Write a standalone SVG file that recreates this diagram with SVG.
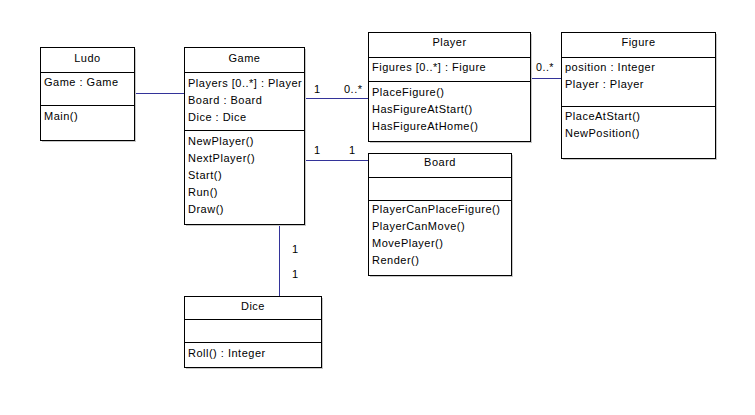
<svg xmlns="http://www.w3.org/2000/svg" width="755" height="415" viewBox="0 0 755 415">
<style>
text{font-family:"Liberation Sans",Arial,sans-serif;font-size:11px;letter-spacing:0.5px;fill:#000}
.c{text-anchor:middle}
.box{fill:#fff;stroke:#000;stroke-width:1}
.sh{fill:#c8c8c8}
.div{stroke:#000;stroke-width:1}
.con{stroke:#333399;stroke-width:1;fill:none}
</style>
<rect width="755" height="415" fill="#fff"/>
<g id="connectors">
<line class="con" x1="134.5" y1="93.5" x2="184.5" y2="93.5"/>
<line class="con" x1="304.5" y1="98.5" x2="368.5" y2="98.5"/>
<line class="con" x1="304.5" y1="160.5" x2="368.5" y2="160.5"/>
<line class="con" x1="530.5" y1="78.5" x2="561.5" y2="78.5"/>
<line class="con" x1="279.5" y1="224.5" x2="279.5" y2="296.5"/>
<text x="314" y="93">1</text>
<text x="344" y="93">0..*</text>
<text x="314" y="154">1</text>
<text x="349" y="154">1</text>
<text x="536" y="71" textLength="18" lengthAdjust="spacingAndGlyphs">0..*</text>
<text x="292" y="253">1</text>
<text x="292" y="278">1</text>
</g>
<g id="ludo">
<rect class="sh" x="42" y="49" width="94" height="93"/>
<rect class="box" x="40.5" y="47.5" width="94" height="93"/>
<line class="div" x1="40.5" y1="72.5" x2="134.5" y2="72.5"/>
<line class="div" x1="40.5" y1="105.5" x2="134.5" y2="105.5"/>
<text class="c" x="87.5" y="62">Ludo</text>
<text x="44" y="86">Game : Game</text>
<text x="44" y="120">Main()</text>
</g>
<g id="game">
<rect class="sh" x="186" y="49" width="120" height="177"/>
<rect class="box" x="184.5" y="47.5" width="120" height="177"/>
<line class="div" x1="184.5" y1="72.5" x2="304.5" y2="72.5"/>
<line class="div" x1="184.5" y1="130.5" x2="304.5" y2="130.5"/>
<text class="c" x="244.5" y="62">Game</text>
<text x="188" y="87">Players [0..*] : Player</text>
<text x="188" y="104">Board : Board</text>
<text x="188" y="121">Dice : Dice</text>
<text x="188" y="145">NewPlayer()</text>
<text x="188" y="162">NextPlayer()</text>
<text x="188" y="179">Start()</text>
<text x="188" y="196">Run()</text>
<text x="188" y="213">Draw()</text>
</g>
<g id="player">
<rect class="sh" x="370" y="34" width="162" height="109"/>
<rect class="box" x="368.5" y="32.5" width="162" height="109"/>
<line class="div" x1="368.5" y1="57.5" x2="530.5" y2="57.5"/>
<line class="div" x1="368.5" y1="81.5" x2="530.5" y2="81.5"/>
<text class="c" x="449.5" y="46">Player</text>
<text x="372" y="71">Figures [0..*] : Figure</text>
<text x="372" y="96">PlaceFigure()</text>
<text x="372" y="113">HasFigureAtStart()</text>
<text x="372" y="130">HasFigureAtHome()</text>
</g>
<g id="figure">
<rect class="sh" x="563" y="34" width="154" height="126"/>
<rect class="box" x="561.5" y="32.5" width="154" height="126"/>
<line class="div" x1="561.5" y1="57.5" x2="715.5" y2="57.5"/>
<line class="div" x1="561.5" y1="106.5" x2="715.5" y2="106.5"/>
<text class="c" x="638.5" y="46">Figure</text>
<text x="565" y="71">position : Integer</text>
<text x="565" y="88">Player : Player</text>
<text x="565" y="120">PlaceAtStart()</text>
<text x="565" y="137">NewPosition()</text>
</g>
<g id="board">
<rect class="sh" x="370" y="155" width="143" height="122"/>
<rect class="box" x="368.5" y="153.5" width="143" height="122"/>
<line class="div" x1="368.5" y1="177.5" x2="511.5" y2="177.5"/>
<line class="div" x1="368.5" y1="200.5" x2="511.5" y2="200.5"/>
<text class="c" x="440" y="166">Board</text>
<text x="372" y="213">PlayerCanPlaceFigure()</text>
<text x="372" y="230">PlayerCanMove()</text>
<text x="372" y="247">MovePlayer()</text>
<text x="372" y="264">Render()</text>
</g>
<g id="dice">
<rect class="sh" x="186" y="298" width="137" height="71"/>
<rect class="box" x="184.5" y="296.5" width="137" height="71"/>
<line class="div" x1="184.5" y1="319.5" x2="321.5" y2="319.5"/>
<line class="div" x1="184.5" y1="342.5" x2="321.5" y2="342.5"/>
<text class="c" x="253" y="310">Dice</text>
<text x="188" y="357">Roll() : Integer</text>
</g>
</svg>
